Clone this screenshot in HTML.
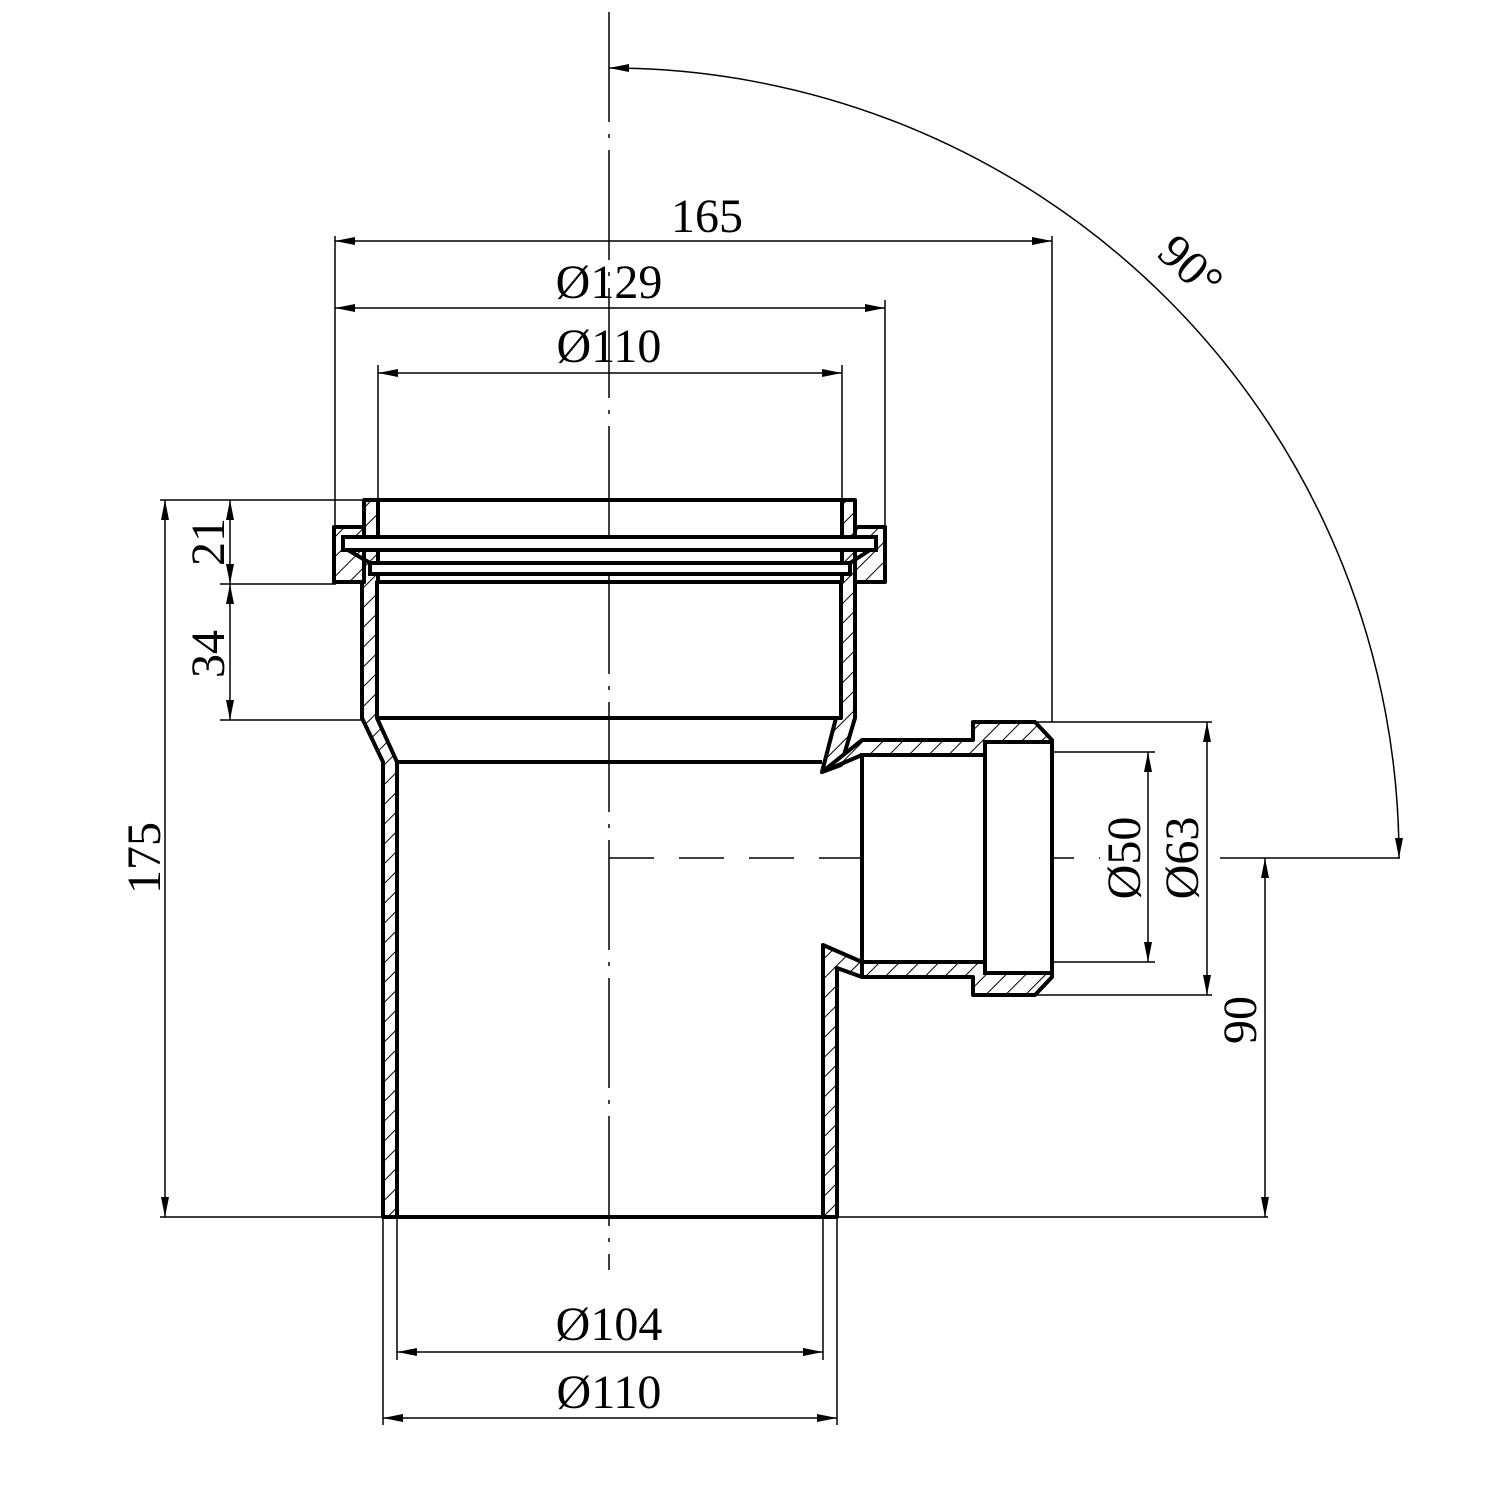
<!DOCTYPE html>
<html><head><meta charset="utf-8"><style>
html,body{margin:0;padding:0;background:#fff}
svg{display:block}
text{font-family:"Liberation Serif",serif;font-size:48px;fill:#000}
</style></head><body>
<svg width="1500" height="1500" viewBox="0 0 1500 1500" xmlns="http://www.w3.org/2000/svg">
<defs>
<pattern id="h" width="14" height="14" patternUnits="userSpaceOnUse" patternTransform="rotate(45)">
<rect width="14" height="14" fill="#fff"/><line x1="0" y1="0" x2="0" y2="14" stroke="#000" stroke-width="2"/>
</pattern>
<marker id="a" viewBox="0 0 20 8" refX="20" refY="4" markerWidth="20" markerHeight="8" markerUnits="userSpaceOnUse" orient="auto-start-reverse">
<path d="M0,0 L20,4 L0,8 Z" fill="#000"/></marker>
</defs>

<g stroke="#000" stroke-width="1.5" fill="none">
<line x1="609" y1="12" x2="609" y2="1270" stroke-dasharray="110,12,4,12"/>
<line x1="609" y1="858" x2="1100" y2="858" stroke-dasharray="45,25"/>
</g>

<g stroke="#000" stroke-width="1.5" fill="none">
<line x1="335" y1="236" x2="335" y2="527"/>
<line x1="378" y1="365" x2="378" y2="500"/>
<line x1="842" y1="365" x2="842" y2="500"/>
<line x1="885" y1="300" x2="885" y2="527"/>
<line x1="1052" y1="236" x2="1052" y2="722"/>
<line x1="160" y1="500" x2="364" y2="500"/>
<line x1="220" y1="584" x2="336" y2="584"/>
<line x1="220" y1="720" x2="362" y2="720"/>
<line x1="160" y1="1217" x2="1268" y2="1217"/>
<line x1="1035" y1="722" x2="1212" y2="722"/>
<line x1="1053" y1="752" x2="1155" y2="752"/>
<line x1="1053" y1="962" x2="1155" y2="962"/>
<line x1="1035" y1="995" x2="1212" y2="995"/>
<line x1="1220" y1="858" x2="1400" y2="858"/>
<line x1="383" y1="1217" x2="383" y2="1425"/>
<line x1="397" y1="1217" x2="397" y2="1360"/>
<line x1="823" y1="1217" x2="823" y2="1360"/>
<line x1="837" y1="1217" x2="837" y2="1425"/>
</g>

<g stroke="#000" stroke-width="1.5" fill="none" marker-start="url(#a)" marker-end="url(#a)">
<line x1="335" y1="241" x2="1052" y2="241"/>
<line x1="335" y1="308" x2="885" y2="308"/>
<line x1="378" y1="373" x2="842" y2="373"/>
<line x1="165" y1="500" x2="165" y2="1217"/>
<line x1="230" y1="500" x2="230" y2="584"/>
<line x1="230" y1="584" x2="230" y2="720"/>
<line x1="1265" y1="858" x2="1265" y2="1217"/>
<line x1="1148" y1="752" x2="1148" y2="962"/>
<line x1="1207" y1="722" x2="1207" y2="995"/>
<line x1="397" y1="1352" x2="823" y2="1352"/>
<line x1="383" y1="1418" x2="837" y2="1418"/>
<path d="M609,68 A790,790 0 0 1 1399,858"/>
</g>

<g stroke="#000" stroke-width="4" fill="url(#h)" stroke-linejoin="round">
<path d="M364,500 L378,500 L378,530 L378,582 L377,582 L377,718 L397,762 L397,1217 L383,1217 L383,762 L362,718 L362,582 L364,582 Z"/>
<path d="M842,500 L855,500 L855,582 L855,718 L841,765 L822,772 L836,718 L841,718 L841,582 L842,582 Z"/>
<path d="M823,945 L862,962 L862,977 L837,968 L837,1217 L823,1217 Z"/>
<path d="M822,772 L862,740 L973,740 L973,722 L1035,722 L1052,740 L1052,752 L985,752 L985,755 L862,755 Z"/>
<path d="M862,962 L985,962 L985,962 L1052,962 L1052,977 L1035,995 L973,995 L973,977 L862,977 Z"/>
<path d="M334,527 L364,527 L364,582 L334,582 Z" />
<path d="M855,527 L885,527 L885,582 L855,582 Z" />
</g>
<g stroke="#000" stroke-width="4" fill="#fff">
<rect x="343" y="537" width="533" height="13"/>
<rect x="370" y="563" width="480" height="11"/>
<path d="M348,550 L370,563 M870,550 L850,563" fill="none"/>
<rect x="985" y="742" width="67" height="231" fill="#fff"/>
<rect x="862" y="755" width="123" height="207" fill="#fff"/>
</g>
<g stroke="#000" stroke-width="4" fill="none">
<line x1="378" y1="718" x2="841" y2="718"/>
<line x1="397" y1="762" x2="822" y2="762"/>
<line x1="383" y1="1217" x2="837" y2="1217"/>
<line x1="378" y1="500" x2="842" y2="500"/>
<line x1="378" y1="582" x2="841" y2="582"/>
</g>

<text x="707" y="232" text-anchor="middle">165</text>
<text x="609" y="298" text-anchor="middle">Ø129</text>
<text x="609" y="362" text-anchor="middle">Ø110</text>
<text x="609" y="1340" text-anchor="middle">Ø104</text>
<text x="609" y="1408" text-anchor="middle">Ø110</text>
<text transform="translate(1180,278) rotate(43)" text-anchor="middle">90°</text>
<text transform="translate(160,858) rotate(-90)" text-anchor="middle">175</text>
<text transform="translate(224,542) rotate(-90)" text-anchor="middle">21</text>
<text transform="translate(224,654) rotate(-90)" text-anchor="middle">34</text>
<text transform="translate(1140,858) rotate(-90)" text-anchor="middle">Ø50</text>
<text transform="translate(1198,858) rotate(-90)" text-anchor="middle">Ø63</text>
<text transform="translate(1256,1020) rotate(-90)" text-anchor="middle">90</text>
</svg>
</body></html>
